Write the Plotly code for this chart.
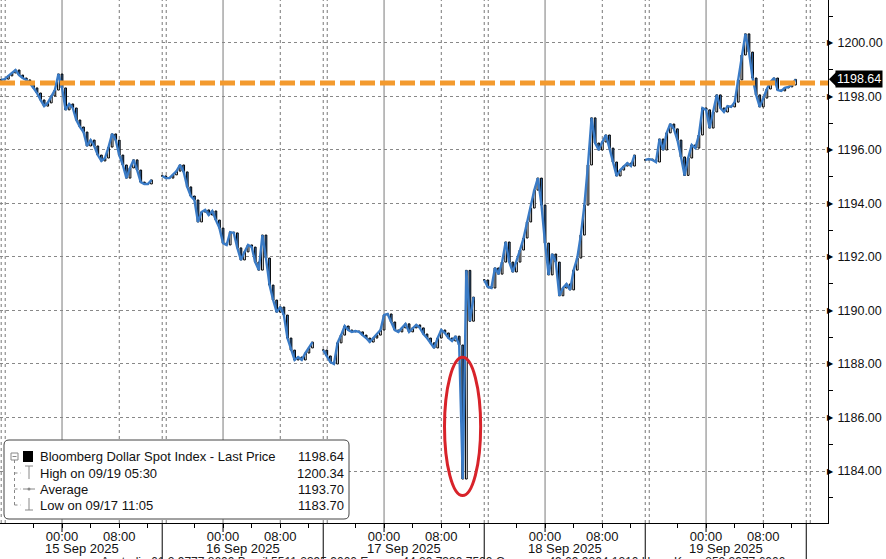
import plotly.graph_objects as go

# ---------------- data ----------------
DAY_LABELS = ["15 Sep 2025", "16 Sep 2025", "17 Sep 2025", "18 Sep 2025", "19 Sep 2025"]
TIME_LABELS = ["00:00", "08:00"]

BAR_HOURS = 0.5          # 30-minute bars
SESSION_HOURS = 22.5     # each session on the chart's compressed time axis
MIDNIGHT_OFFSET = 8.5    # 00:00 position inside a session (session opens 15:30)
EIGHT_OFFSET = 16.5      # 08:00 position inside a session
MINOR_OFFSETS = [4.5, 12.5, 20.5]

CLOSE_S1 = [1198.62, 1198.65, 1198.77, 1198.88, 1198.99, 1198.80, 1198.69, 1198.62, 1198.50, 1198.32,
            1198.13, 1197.87, 1197.64, 1197.76, 1198.02, 1198.24, 1198.84, 1198.32, 1197.50, 1197.72,
            1197.57, 1197.12, 1196.86, 1196.67, 1196.15, 1196.37, 1196.15, 1195.81, 1195.59, 1195.70,
            1196.11, 1196.60, 1196.37, 1195.81, 1195.44, 1194.95, 1195.33, 1195.63, 1195.25, 1194.80,
            1194.73, 1194.73, 1194.88, None, None]
CLOSE_S2 = [1195.03, 1194.95, 1194.95, 1195.07, 1195.21, 1195.44, 1195.18, 1194.62, 1194.28, 1194.13,
            1193.31, 1193.68, 1193.76, 1193.57, 1193.72, 1193.38, 1193.08, 1192.52, 1192.45, 1192.93,
            1192.90, 1192.34, 1191.89, 1192.19, 1192.45, 1192.37, 1191.81, 1191.51, 1192.82, 1191.96,
            1190.95, 1190.39, 1189.94, 1190.13, 1189.83, 1188.97, 1188.52, 1188.15, 1188.26, 1188.15,
            1188.41, 1188.60, 1188.82, None, None]
CLOSE_S3 = [1188.52, 1188.30, 1188.07, 1188.00, 1188.79, 1189.08, 1189.42, 1189.27, 1189.20, 1189.23,
            1189.20, 1189.08, 1188.97, 1188.82, 1188.97, 1189.08, 1189.27, 1189.83, 1189.87, 1189.57,
            1189.27, 1189.20, 1189.35, 1189.50, 1189.20, 1189.35, 1189.46, 1189.35, 1189.12, 1188.97,
            1188.79, 1188.60, 1188.97, 1189.27, 1189.16, 1188.97, 1188.86, 1189.04, 1188.71, 1183.70,
            1191.50, 1189.60, 1190.50, None, None]
CLOSE_S4 = [1191.14, 1190.88, 1190.84, 1191.59, 1191.36, 1191.81, 1192.56, 1191.81, 1191.44, 1191.81,
            1192.26, 1192.71, 1193.31, 1193.83, 1194.50, 1194.95, 1193.94, 1192.52, 1191.33, 1192.11,
            1191.81, 1190.55, 1190.84, 1190.99, 1190.77, 1191.51, 1191.96, 1192.82, 1193.94, 1195.44,
            1197.20, 1196.26, 1196.00, 1196.30, 1196.56, 1196.07, 1195.55, 1195.03, 1195.25, 1195.40,
            1195.51, 1195.40, 1195.81, None, None]
CLOSE_S5 = [1195.63, 1195.66, 1195.63, 1195.55, 1196.41, 1196.00, 1196.64, 1196.97, 1196.79, 1196.37,
            1195.74, 1195.05, 1195.70, 1196.19, 1196.07, 1196.56, 1197.57, 1197.50, 1196.82, 1197.42,
            1198.06, 1197.57, 1197.42, 1197.64, 1197.61, 1197.79, 1198.62, 1199.55, 1200.34, 1199.66,
            1198.69, 1198.06, 1197.61, 1197.94, 1198.28, 1198.54, 1198.69, 1198.24, 1198.21, 1198.32,
            1198.36, 1198.43, 1198.64]

LAST_PRICE = 1198.64
HIGH_VAL = 1200.34
AVG_VAL = 1193.70
LOW_VAL = 1183.70
REF_LEVEL = 1198.50

LEGEND_ROWS = [
    ("Bloomberg Dollar Spot Index - Last Price", LAST_PRICE),
    ("High on 09/19 05:30", HIGH_VAL),
    ("Average", AVG_VAL),
    ("Low on 09/17 11:05", LOW_VAL),
]
FOOTER = ("Australia 61 2 9777 8600 Brazil 5511 2395 9000 Europe 44 20 7330 7500 "
          "Germany 49 69 9204 1210 Hong Kong 852 2977 6000")

X_RANGE = [-0.168, 115.54]
Y_RANGE = [1182.056, 1201.607]

# ---------------- styling / layout helpers ----------------
W, H = 886, 559
PW, PH = 828, 523           # plot area size in pixels (left=0, top=0)
FONT = "Liberation Sans, Arial, sans-serif"
BLUE = "#3A7BC6"
ORANGE = "#F39A2E"


def X(px):
    return px / PW


def Y(py):
    return (PH - py) / PH


close = CLOSE_S1 + CLOSE_S2 + CLOSE_S3 + CLOSE_S4 + CLOSE_S5
xpos = [k * BAR_HOURS for k in range(len(close))]
opens, highs, lows = [], [], []
prev = None
for c in close:
    if c is None:
        opens.append(None); highs.append(None); lows.append(None)
        prev = None
        continue
    o = prev if prev is not None else c
    opens.append(o); highs.append(max(o, c)); lows.append(min(o, c))
    prev = c

n_days = len(DAY_LABELS)
mid_pos = [MIDNIGHT_OFFSET + SESSION_HOURS * i for i in range(n_days)]
eight_pos = [EIGHT_OFFSET + SESSION_HOURS * i for i in range(n_days)]
sep_pos = [SESSION_HOURS * i for i in range(n_days + 1)]
minor_pos = [m + SESSION_HOURS * i for i in range(n_days) for m in MINOR_OFFSETS]

fig = go.Figure()
fig.add_trace(go.Scatter(x=xpos, y=close, mode="lines", line=dict(color=BLUE, width=2.4),
                         connectgaps=False, hoverinfo="skip", showlegend=False))
fig.add_trace(go.Candlestick(
    x=xpos, open=opens, high=highs, low=lows, close=close,
    increasing=dict(line=dict(color="#000000", width=1), fillcolor="#ffffff"),
    decreasing=dict(line=dict(color="#000000", width=1), fillcolor=BLUE),
    whiskerwidth=0, hoverinfo="skip", showlegend=False))

shapes = []
# vertical grid: solid at 00:00, dotted at 08:00, double dotted at session breaks
for p in mid_pos:
    shapes.append(dict(type="line", xref="x", yref="paper", x0=p, x1=p, y0=0, y1=1,
                       line=dict(color="#7a7a7a", width=1), layer="below"))
    shapes.append(dict(type="line", xref="x", yref="paper", x0=p, x1=p, y0=0, y1=Y(PH + 9),
                       line=dict(color="#000", width=1)))
for p in eight_pos:
    shapes.append(dict(type="line", xref="x", yref="paper", x0=p, x1=p, y0=0, y1=1,
                       line=dict(color="#777", width=1, dash="dot"), layer="below"))
for p in sep_pos:
    for dp in (0.0, 0.56):
        shapes.append(dict(type="line", xref="x", yref="paper", x0=p + dp, x1=p + dp, y0=0, y1=1,
                           line=dict(color="#777", width=1, dash="dot"), layer="below"))
    if p > 0:
        shapes.append(dict(type="line", xref="x", yref="paper", x0=p, x1=p, y0=0, y1=Y(H + 2),
                           line=dict(color="#000", width=1)))

# reference dashed level
shapes.append(dict(type="line", xref="paper", yref="y", x0=0, x1=1, y0=REF_LEVEL, y1=REF_LEVEL,
                   line=dict(color=ORANGE, width=5, dash="15px,5px"), layer="above"))

# red ellipse around the low
low_idx = close.index(LOW_VAL)
lp = xpos[low_idx]
shapes.append(dict(type="circle", xref="x", yref="y", x0=lp - 2.55, x1=lp + 2.5,
                   y0=LOW_VAL - 0.62, y1=LOW_VAL + 4.55,
                   line=dict(color="#D8232A", width=3), layer="above"))

# last price tag arrow
shapes.append(dict(type="path", xref="paper", yref="y", xsizemode="pixel", ysizemode="pixel",
                   xanchor=1, yanchor=LAST_PRICE, path="M 1,0 L 9,8 L 9,-8 Z",
                   fillcolor="#000", line=dict(width=0)))

# legend box (rounded)
x0, y0, x1, y1, r = 4, 440, 349, 519, 5
path = (f"M {X(x0 + r)},{Y(y0)} L {X(x1 - r)},{Y(y0)} Q {X(x1)},{Y(y0)} {X(x1)},{Y(y0 + r)} "
        f"L {X(x1)},{Y(y1 - r)} Q {X(x1)},{Y(y1)} {X(x1 - r)},{Y(y1)} "
        f"L {X(x0 + r)},{Y(y1)} Q {X(x0)},{Y(y1)} {X(x0)},{Y(y1 - r)} "
        f"L {X(x0)},{Y(y0 + r)} Q {X(x0)},{Y(y0)} {X(x0 + r)},{Y(y0)} Z")
shapes.append(dict(type="path", xref="paper", yref="paper", path=path, fillcolor="#ffffff",
                   line=dict(color="#444", width=1), layer="above"))

row_y = [456, 473, 489, 505]
G = "#888"
# tree glyphs
shapes += [
    dict(type="rect", xref="paper", yref="paper", x0=X(11), x1=X(18), y0=Y(453), y1=Y(460),
         line=dict(color=G, width=1), layer="above"),
    dict(type="line", xref="paper", yref="paper", x0=X(12.5), x1=X(16.5), y0=Y(456.5), y1=Y(456.5),
         line=dict(color=G, width=1), layer="above"),
    dict(type="line", xref="paper", yref="paper", x0=X(14.5), x1=X(14.5), y0=Y(460), y1=Y(row_y[3]),
         line=dict(color=G, width=1, dash="dot"), layer="above"),
    dict(type="rect", xref="paper", yref="paper", x0=X(23), x1=X(33), y0=Y(451), y1=Y(462),
         fillcolor="#000", line=dict(width=0), layer="above"),
]
for ry in row_y[1:]:
    shapes.append(dict(type="line", xref="paper", yref="paper", x0=X(14.5), x1=X(21), y0=Y(ry), y1=Y(ry),
                       line=dict(color=G, width=1, dash="dot"), layer="above"))
# high icon (T)
shapes += [
    dict(type="line", xref="paper", yref="paper", x0=X(25), x1=X(33), y0=Y(466), y1=Y(466),
         line=dict(color=G, width=1), layer="above"),
    dict(type="line", xref="paper", yref="paper", x0=X(29), x1=X(29), y0=Y(466), y1=Y(479),
         line=dict(color=G, width=1), layer="above"),
    # average icon
    dict(type="line", xref="paper", yref="paper", x0=X(23), x1=X(35), y0=Y(489), y1=Y(489),
         line=dict(color=G, width=1), layer="above"),
    dict(type="circle", xref="paper", yref="paper", x0=X(27.5), x1=X(30.5), y0=Y(487.5), y1=Y(490.5),
         fillcolor=G, line=dict(width=0), layer="above"),
    # low icon
    dict(type="line", xref="paper", yref="paper", x0=X(29), x1=X(29), y0=Y(498), y1=Y(510),
         line=dict(color=G, width=1), layer="above"),
    dict(type="line", xref="paper", yref="paper", x0=X(25), x1=X(33), y0=Y(510), y1=Y(510),
         line=dict(color=G, width=1), layer="above"),
]

annotations = []
for (label, val), ry in zip(LEGEND_ROWS, row_y):
    annotations.append(dict(xref="paper", yref="paper", x=X(38), y=Y(ry), text=label, showarrow=False,
                            xanchor="left", yanchor="middle", font=dict(family=FONT, size=13, color="#111")))
    annotations.append(dict(xref="paper", yref="paper", x=X(346), y=Y(ry), text=f"{val:.2f}", showarrow=False,
                            xanchor="right", yanchor="middle", font=dict(family=FONT, size=13, color="#111")))
for i, lab in enumerate(DAY_LABELS):
    annotations.append(dict(xref="x", yref="paper", x=sep_pos[i] + SESSION_HOURS / 2, y=Y(548), text=lab,
                            showarrow=False, xanchor="center", yanchor="middle",
                            font=dict(family=FONT, size=13, color="#111")))
# y-axis triangle markers
yt = list(range(1184, 1201, 2))
for v in yt:
    annotations.append(dict(xref="paper", yref="y", x=1, y=v, text="\u25B6", showarrow=False,
                            xanchor="left", yanchor="middle", xshift=-3,
                            font=dict(family="DejaVu Sans", size=8, color="#000")))
annotations.append(dict(xref="paper", yref="y", x=1, y=LAST_PRICE, text=f"{LAST_PRICE:.2f}", showarrow=False,
                        xanchor="left", yanchor="middle", xshift=7, bgcolor="#000", borderpad=1,
                        font=dict(family=FONT, size=12.5, color="#fff")))
annotations.append(dict(xref="paper", yref="paper", x=X(443), y=Y(553), text=FOOTER, showarrow=False,
                        xanchor="center", yanchor="top", font=dict(family=FONT, size=12, color="#222")))

fig.update_layout(
    width=W, height=H, margin=dict(l=0, r=W - PW, t=0, b=H - PH, pad=0, autoexpand=False),
    paper_bgcolor="#ffffff", plot_bgcolor="#ffffff",
    showlegend=False, hovermode=False,
    shapes=shapes, annotations=annotations,
    font=dict(family=FONT, size=13, color="#111"),
    xaxis=dict(range=X_RANGE, showgrid=False, zeroline=False, rangeslider=dict(visible=False),
               automargin=False, tickmode="array",
               tickvals=mid_pos + eight_pos,
               ticktext=[TIME_LABELS[0]] * n_days + [TIME_LABELS[1]] * n_days,
               ticks="outside", ticklen=4, tickcolor="#000", showline=True, linecolor="#000",
               linewidth=1, tickfont=dict(family=FONT, size=13, color="#111"),
               ticklabelstandoff=-3,
               minor=dict(tickvals=minor_pos, ticks="outside", ticklen=4, tickcolor="#000"),
               fixedrange=True),
    yaxis=dict(range=Y_RANGE, side="right", automargin=False, tickmode="array", tickvals=yt,
               ticktext=[f"{v:.2f}" for v in yt], showgrid=True, gridcolor="#888", griddash="dot",
               gridwidth=1, zeroline=False, showline=True, linecolor="#000", linewidth=1,
               ticks="outside", ticklen=6, tickcolor="rgba(0,0,0,0)",
               minor=dict(tickvals=list(range(1183, 1202, 2)), ticks="outside", ticklen=4,
                          tickcolor="#000", showgrid=False),
               tickfont=dict(family=FONT, size=12.5, color="#111"), fixedrange=True),
)

fig.write_html("out.html", config={"displayModeBar": False},
               post_script="document.body.style.margin='0px';document.body.style.overflow='hidden';")
